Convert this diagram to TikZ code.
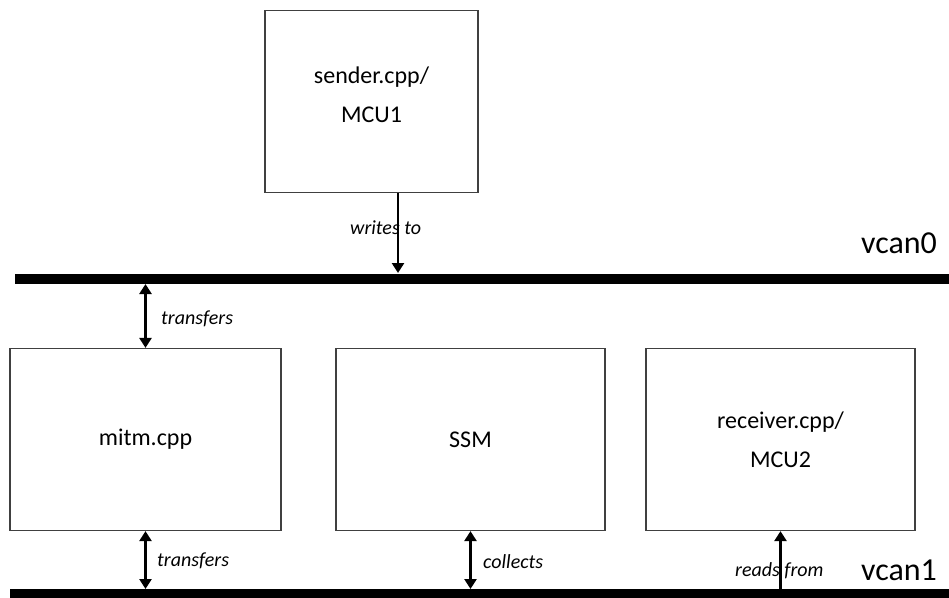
\documentclass[tikz,border=0pt]{standalone}
\usepackage{fontspec}
\setmainfont{Carlito}
\usetikzlibrary{arrows.meta}

\begin{document}
\begin{tikzpicture}[x=1pt, y=-1pt,
		box/.style={draw=black!75, line width=1.2pt, minimum height=182pt, align=center, font=\fontsize{24}{39}\selectfont},
		bus/.style={line width=10pt},
		link/.style={line width=2.6pt, -{Triangle[width=12pt,length=10pt]}},
		dlink/.style={line width=2.6pt, {Triangle[width=12pt,length=10pt]}-{Triangle[width=12pt,length=10pt]}},
		lbl/.style={font=\fontsize{20}{24}\selectfont\itshape, anchor=west, inner sep=0pt},
		busname/.style={font=\fontsize{32}{38}\selectfont, anchor=west, inner sep=0pt}]
	\useasboundingbox (0,0) rectangle (949,597);
	% boxes
	\node[box, minimum width=213pt, text depth=14pt] (sender) at (371.5,101.5) {sender.cpp/\\MCU1};
	\node[box, minimum width=271pt] (mitm) at (145.5,439.5) {mitm.cpp};
	\node[box, minimum width=269pt] (ssm) at (470.5,439.5) {SSM};
	\node[box, minimum width=269pt] (receiver) at (780.5,439.5) {receiver.cpp/\\MCU2};
	% buses
	\coordinate (v0l) at (15,278.5);
	\coordinate (v0r) at (949,278.5);
	\coordinate (v1l) at (10,594);
	\coordinate (v1r) at (949,594);
	\draw[bus] (v0l) -- (v0r);
	\draw[bus] (v1l) -- (v1r);
	\node[busname] (vcan0) at (861,243) {vcan0};
	\node[busname] (vcan1) at (861,570) {vcan1};
	% points on the buses
	\coordinate (w0) at (398,273);
	\coordinate (t0) at (145.5,284);
	\coordinate (t1) at (145.5,589);
	\coordinate (c1) at (470.5,589);
	\coordinate (r1) at (780.5,589);
	% labels
	\node[lbl] (lwrites) at (350,228) {writes to};
	\node[lbl] (ltrans0) at (161,319) {transfers};
	\node[lbl] (ltrans1) at (157,561) {transfers};
	\node[lbl] (lcollects) at (483,562) {collects};
	\node[lbl] (lreads) at (735,571) {reads from};
	% connectors
	\draw[link] (sender.south -| w0) -- (w0);
	\draw[dlink] (t0) -- (mitm.north);
	\draw[dlink] (mitm.south) -- (t1);
	\draw[dlink] (ssm.south) -- (c1);
	\draw[link] (r1) -- (receiver.south);
\end{tikzpicture}
\end{document}
